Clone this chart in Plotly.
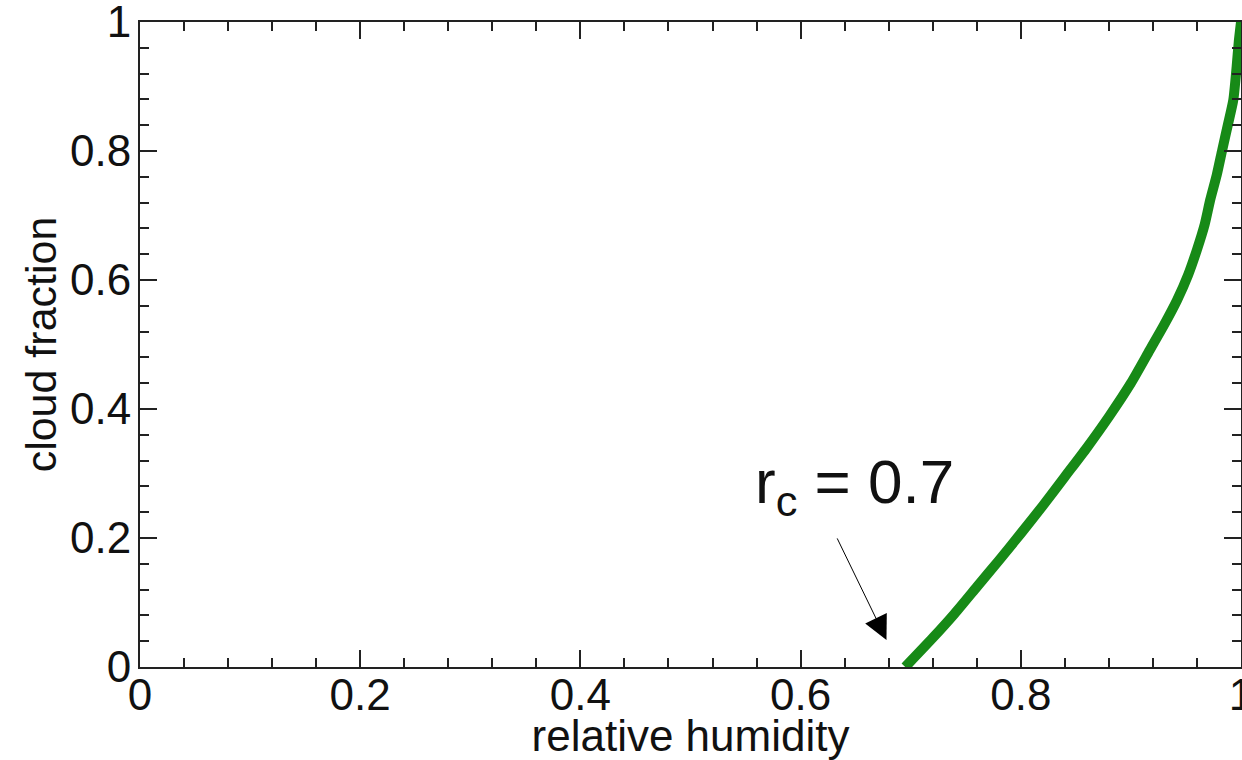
import plotly.graph_objects as go

# Data
relative_humidity = [0.695, 0.72, 0.74, 0.76, 0.78, 0.80, 0.82, 0.84, 0.86, 0.88, 0.90, 0.917,
                     0.93, 0.942, 0.952, 0.960, 0.967, 0.972, 0.978, 0.983, 0.988, 0.993,
                     0.996, 0.998, 1.0]
cloud_fraction = [0.0, 0.045, 0.083, 0.124, 0.165, 0.207, 0.250, 0.295, 0.340, 0.388, 0.440, 0.491,
                  0.530, 0.569, 0.608, 0.647, 0.686, 0.724, 0.763, 0.802, 0.840, 0.879,
                  0.930, 0.970, 1.0]

tick_values = [0, 0.2, 0.4, 0.6, 0.8, 1.0]
tick_labels = ["0", "0.2", "0.4", "0.6", "0.8", "1"]

x_title = "relative humidity"
y_title = "cloud fraction"
annotation_text = "r<sub>c</sub> = 0.7"
arrow_target = (0.678, 0.042)

FONT = "Liberation Sans, Arial, sans-serif"
AX_COLOR = "#222222"

fig = go.Figure()
fig.add_trace(go.Scatter(
    x=relative_humidity, y=cloud_fraction, mode="lines",
    line=dict(color="#178a17", width=10, shape="spline", smoothing=0.6), showlegend=False,
))

axis_common = dict(
    range=[0, 1], tickmode="array", tickvals=tick_values, ticktext=tick_labels,
    showgrid=False, zeroline=False, showline=True, linecolor=AX_COLOR, linewidth=2,
    mirror="allticks", ticks="inside", ticklen=17, tickwidth=2, tickcolor=AX_COLOR,
    tickfont=dict(family=FONT, size=44, color="#111111"),
    minor=dict(dtick=0.04, ticks="inside", ticklen=9, tickwidth=2, tickcolor=AX_COLOR, showgrid=False),
    ticklabeloverflow="allow", automargin=False,
)

fig.update_xaxes(**axis_common, ticklabelstandoff=-12,
                 title=dict(text=x_title, font=dict(family=FONT, size=44, color="#111111"), standoff=8))
fig.update_yaxes(**axis_common, ticklabelstandoff=-2,
                 title=dict(text=y_title, font=dict(family=FONT, size=43, color="#111111"), standoff=0))

fig.add_annotation(
    x=arrow_target[0], y=arrow_target[1], xref="x", yref="y", text="",
    showarrow=True, arrowhead=2, arrowsize=4.8, arrowwidth=1, arrowcolor="black",
    ax=-50, ay=-103,
)
fig.add_annotation(
    x=0.557, y=0.280, xref="x", yref="y", text=annotation_text, showarrow=False,
    xanchor="left", yanchor="middle", font=dict(family=FONT, size=62, color="#111111"),
)

fig.update_layout(
    width=1242, height=760,
    margin=dict(l=140, r=1, t=22, b=93),
    paper_bgcolor="white", plot_bgcolor="white",
)

fig.write_html("out.html")
